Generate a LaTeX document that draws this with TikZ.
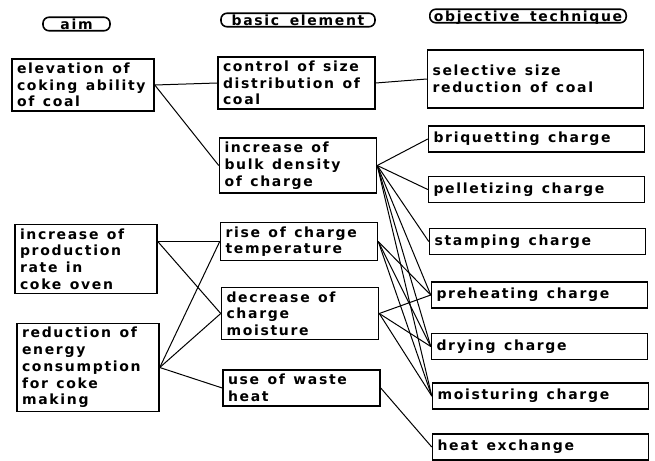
\documentclass[tikz,border=0pt]{standalone}
\usepackage{fontspec}
\newfontfamily\chartfont[LetterSpace=12, WordSpace=1.6]{DejaVu Sans}
\usepackage{tikz}

\begin{document}
\begin{tikzpicture}
[x = 1pt, y = -1pt, font = \chartfont\bfseries\fontsize{14}{16.7}\selectfont,
 head/.style = {rectangle, draw=black, line width=1.6pt, rounded corners=6pt, inner xsep=4pt, inner ysep=1.5pt, text height=10.5pt, text depth=0pt},
 box/.style = {rectangle, draw=black, line width=1.5pt, align=left, inner xsep=5pt, inner ysep=4pt, execute at begin node={\spaceskip=0.6em\relax}},
 aimbox/.style = {box, text width=132pt},
 elembox/.style = {box, text width=147pt},
 techbox/.style = {box, text width=206pt, minimum height=26pt},
 link/.style = {line width=1pt}]
\useasboundingbox (0,0) rectangle (655,460);

\node[head, minimum width=67pt] (h1) at (76.5,24) {aim};
\node[head, minimum width=154pt] (h2) at (298,20) {basic element};
\node[head, minimum width=196pt] (h3) at (528,16) {objective technique};

\node[aimbox] (a1) at (83,85) {elevation of\\coking ability\\of coal};
\node[aimbox] (a2) at (86,259) {increase of\\production\\rate in\\coke oven};
\node[aimbox] (a3) at (88,367.5) {reduction of\\energy\\consumption\\for coke\\making};

\node[elembox] (b1) at (296.5,83) {control of size\\distribution of\\coal};
\node[elembox] (b2) at (298,165.5) {increase of\\bulk density\\of charge};
\node[elembox] (b3) at (299,241.5) {rise of charge\\temperature};
\node[elembox] (b4) at (300,313.5) {decrease of\\charge\\moisture};
\node[elembox] (b5) at (301.5,388) {use of waste\\heat};

\node[techbox, minimum height=58pt] (t1) at (535.5,79) {selective size\\reduction of coal};
\node[techbox] (t2) at (536.5,139) {briquetting charge};
\node[techbox] (t3) at (536.5,189.5) {pelletizing charge};
\node[techbox] (t4) at (537.5,241.5) {stamping charge};
\node[techbox] (t5) at (539.5,295) {preheating charge};
\node[techbox] (t6) at (539.5,346.5) {drying charge};
\node[techbox] (t7) at (540.5,396) {moisturing charge};
\node[techbox] (t8) at (540.5,447) {heat exchange};

\draw[link] (a1.east) edge (b1.west) (a1.east) edge (b2.west)
 (a2.east |- b3.west) edge (b3.west) (a2.east |- b3.west) edge (b4.west)
 (a3.east) edge (b3.west) (a3.east) edge (b4.west) (a3.east) edge (b5.west);
\draw[link] (b1.east) edge (t1.west)
 (b2.east) edge (t2.west) (b2.east) edge (t3.west) (b2.east) edge (t4.west)
 (b2.east) edge (t5.west) (b2.east) edge (t6.west) (b2.east) edge (t7.west)
 (b3.east) edge (t5.west) (b3.east) edge (t6.west) (b3.east) edge (t7.west)
 (b4.east) edge (t5.west) (b4.east) edge (t6.west) (b4.east) edge (t7.west)
 (b5.east) edge (t8.west);

\end{tikzpicture}
\end{document}
